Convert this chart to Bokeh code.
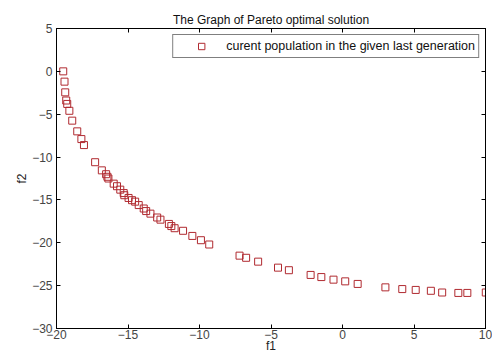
from bokeh.plotting import figure
from bokeh.models import Range1d, LinearAxis, FixedTicker, Legend, LegendItem
from bokeh.embed import file_html
from bokeh.resources import INLINE

f1 = [-19.53, -19.44, -19.39, -19.32, -19.25, -19.1, -18.9, -18.55, -18.26, -18.08,
      -17.3, -16.83, -16.53, -16.44, -16.37, -16.0, -15.77, -15.54, -15.3, -15.26,
      -14.96, -14.72, -14.5, -14.25, -13.9, -13.73, -13.43, -12.96, -12.73, -12.14,
      -11.97, -11.74, -11.15, -10.5, -9.9, -9.32, -7.2, -6.74, -5.9, -4.51,
      -3.75, -2.23, -1.48, -0.63, 0.19, 1.06, 3.0, 4.18, 5.12, 6.18,
      6.97, 8.1, 8.73, 10.02]
f2 = [0.0, -1.2, -2.45, -3.4, -3.8, -4.6, -5.75, -7.0, -7.9, -8.6,
      -10.6, -11.55, -12.0, -12.3, -12.5, -13.1, -13.4, -13.8, -14.2, -14.45,
      -14.77, -15.03, -15.2, -15.6, -16.0, -16.3, -16.6, -17.05, -17.3, -17.8,
      -18.05, -18.3, -18.6, -19.2, -19.7, -20.2, -21.5, -21.75, -22.2, -22.9,
      -23.2, -23.75, -24.0, -24.3, -24.5, -24.8, -25.2, -25.4, -25.5, -25.6,
      -25.8, -25.85, -25.85, -25.8]
x_ticks = [-20, -15, -10, -5, 0, 5, 10]
y_ticks = [-30, -25, -20, -15, -10, -5, 0, 5]
title_text = "The Graph of Pareto optimal solution"
legend_label = "curent population in the given last generation"
x_label = "f1"
y_label = "f2"

FONT = "Liberation Sans"
RED = "#b02a30"

p = figure(width=492, height=356, output_backend="svg", toolbar_location=None,
           x_range=Range1d(-20, 10), y_range=Range1d(-30, 5),
           min_border_left=56, min_border_right=7, min_border_top=28, min_border_bottom=28)
p.title.text = title_text
p.title.align = "center"
p.title.text_font = FONT
p.title.text_font_size = "12px"
p.title.text_font_style = "normal"
p.title.text_color = "#111111"
p.title.standoff = 4

p.xgrid.visible = False
p.ygrid.visible = False
p.outline_line_color = "black"
p.background_fill_color = "white"
p.border_fill_color = "white"

def style(ax, ticks, labels=True):
    ax.ticker = FixedTicker(ticks=ticks)
    ax.axis_line_color = "black"
    ax.major_tick_in = 4
    ax.major_tick_out = 0
    ax.minor_tick_line_color = None
    ax.major_tick_line_color = "black"
    if labels:
        ax.major_label_text_font = FONT
        ax.major_label_text_font_size = "12px"
        ax.major_label_text_color = "#444444"
        ax.major_label_standoff = 4
        ax.axis_label_text_font = FONT
        ax.axis_label_text_font_size = "12px"
        ax.axis_label_text_font_style = "normal"
        ax.axis_label_text_color = "#222222"
        ax.axis_label_standoff = 2
    else:
        ax.major_label_text_color = None
        ax.major_label_text_font_size = "1px"
        ax.major_label_standoff = 0

style(p.xaxis[0], x_ticks)
style(p.yaxis[0], y_ticks)
p.xaxis[0].axis_label = x_label
p.xaxis[0].major_label_standoff = 1
p.xaxis[0].axis_label_standoff = -3
p.yaxis[0].axis_label = y_label
p.yaxis[0].axis_label_standoff = 0

top = LinearAxis()
style(top, x_ticks, labels=False)
p.add_layout(top, "above")
right = LinearAxis()
style(right, y_ticks, labels=False)
p.add_layout(right, "right")

r = p.scatter(f1, f2, marker="square", size=7, fill_color=None,
              line_color=RED, line_width=1)

legend = Legend(items=[LegendItem(label=legend_label, renderers=[r])],
                location="top_right")
legend.border_line_color = "black"
legend.border_line_width = 1
legend.padding = 3
legend.margin = 6
legend.label_height = 16
legend.glyph_height = 16
legend.glyph_width = 50
legend.label_standoff = 0
legend.label_text_font = FONT
legend.label_text_font_size = "12.5px"
legend.label_text_color = "#111111"
legend.background_fill_alpha = 1
p.add_layout(legend, "center")

open("out.html", "w").write(file_html(p, INLINE))
